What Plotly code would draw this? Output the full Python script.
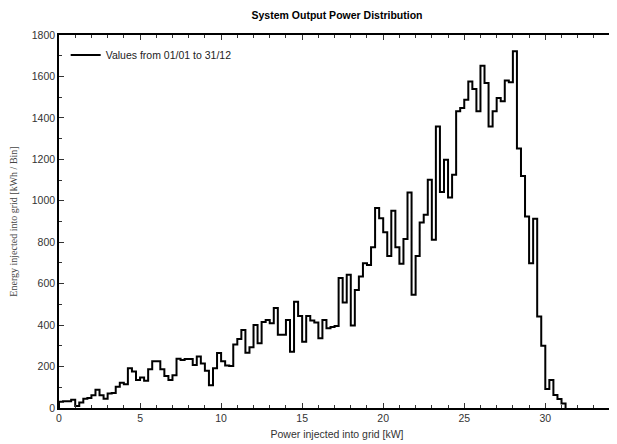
import numpy as np
import plotly.graph_objects as go

title = "System Output Power Distribution"
series_name = "Values from 01/01 to 31/12"
x_title = "Power injected into grid [kW]"
y_title = "Energy injected into grid [kWh / Bin]"

bin_width = 0.25  # kW
energy = [
    30, 32, 33, 40, 10, 27, 45, 48, 62, 88,
    62, 45, 70, 72, 102, 122, 115, 192, 176, 135,
    147, 132, 187, 226, 226, 187, 155, 135, 158, 238,
    232, 237, 237, 208, 248, 215, 180, 110, 192, 266,
    226, 205, 203, 306, 333, 377, 267, 293, 401, 312,
    415, 425, 409, 482, 353, 353, 425, 272, 513, 444,
    320, 444, 422, 412, 337, 425, 385, 391, 396, 627,
    509, 643, 398, 570, 634, 699, 690, 776, 965, 916,
    848, 734, 952, 776, 696, 815, 1040, 546, 734, 895,
    932, 1101, 812, 1359, 1042, 1198, 1016, 1126, 1432, 1448,
    1488, 1576, 1539, 1432, 1652, 1568, 1359, 1432, 1496, 1480,
    1580, 1572, 1721, 1252, 1120, 924, 699, 913, 441, 301,
    92, 135, 63, 43, 22,
]

edges = np.arange(len(energy) + 1) * bin_width
xs = np.concatenate([[edges[0]], edges])
ys = np.concatenate([[0], energy, [0]])

fig = go.Figure()
fig.add_trace(go.Scatter(
    x=xs, y=ys, mode="lines", line_shape="hv",
    line=dict(color="black", width=2),
    name=series_name, showlegend=True,
))

axis_common = dict(
    showline=True, linecolor="black", linewidth=1.5, mirror="ticks",
    ticks="inside", tickcolor="#333", ticklen=5, tickwidth=1,
    showgrid=False, zeroline=False, automargin=False,
    tickfont=dict(family="Liberation Sans, Arial", size=10.5, color="#333"),
)

fig.update_layout(
    width=609, height=436,
    margin=dict(l=51, r=2, t=27, b=36),
    paper_bgcolor="white", plot_bgcolor="white",
    title=dict(text="<b>" + title + "</b>", x=0.5, xref="paper", xanchor="center",
               y=1 - 7 / 436, yref="container", yanchor="middle",
               font=dict(family="Liberation Sans, Arial", size=10.5, color="black")),
    xaxis=dict(range=[0, 34.3], tick0=0, dtick=5,
               minor=dict(dtick=1, ticks="inside", ticklen=3, tickcolor="#333", showgrid=False),
               title=dict(text=x_title, standoff=7,
                          font=dict(family="Liberation Sans, Arial", size=10.5, color="#333")),
               **axis_common),
    yaxis=dict(range=[0, 1800], tick0=0, dtick=200,
               minor=dict(dtick=100, ticks="inside", ticklen=3, tickcolor="#333", showgrid=False),
               title=dict(text=y_title, standoff=16,
                          font=dict(family="Liberation Serif, Times New Roman", size=10, color="#444")),
               **axis_common),
    legend=dict(x=0.012, y=0.985, xanchor="left", yanchor="top",
                bgcolor="rgba(0,0,0,0)", borderwidth=0, itemwidth=30,
                font=dict(family="Liberation Sans, Arial", size=10.5, color="#222")),
)

fig.write_html("out.html")
